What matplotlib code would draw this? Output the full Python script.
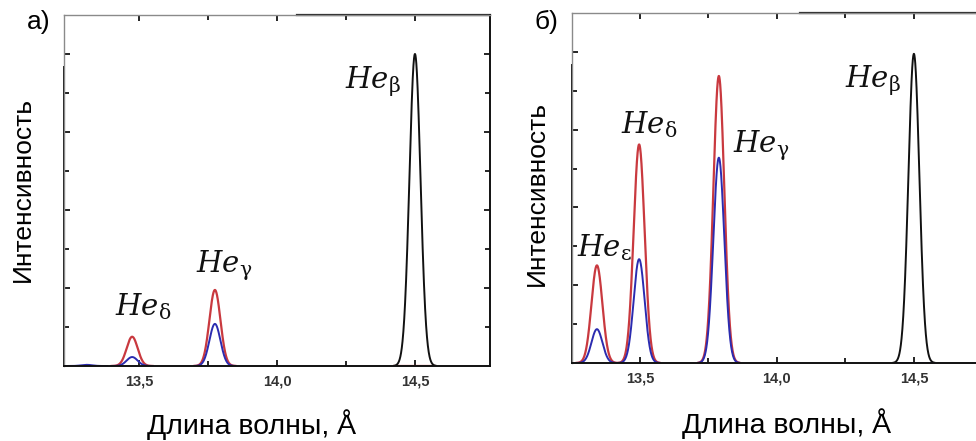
import numpy as np
import matplotlib
matplotlib.use("Agg")
import matplotlib.pyplot as plt

plt.rcParams["font.family"] = ["Liberation Sans", "DejaVu Sans"]
plt.rcParams["mathtext.fontset"] = "dejavuserif"

# Spectral lines: centre [Å], peak heights [axis units]
# nan = curve not drawn for that line
A_CENTRES = [13.31, 13.475, 13.775, 14.50]
A_RED = [np.nan, 0.75, 1.95, 0.0]
A_BLUE = [0.03, 0.23, 1.08, np.nan]
A_BLACK = [np.nan, np.nan, np.nan, 8.0]

B_CENTRES = [13.343, 13.497, 13.788, 14.50]
B_RED = [2.51, 5.62, 7.38, np.nan]
B_BLUE = [0.87, 2.67, 5.28, 0.0]
B_BLACK = [np.nan, np.nan, np.nan, 7.95]

SIGMA = 0.0200      # line width (Gaussian sigma, Å)
HALF_WIN = 0.078    # each curve is only drawn around its line

A_LABELS = [r"$He_{\mathrm{\beta}}$", r"$He_{\mathrm{\gamma}}$", r"$He_{\mathrm{\delta}}$"]
A_LABEL_XY = [(14.246, 7.13), (13.707, 2.41), (13.413, 1.31)]
B_LABELS = [r"$He_{\mathrm{\beta}}$", r"$He_{\mathrm{\gamma}}$",
            r"$He_{\mathrm{\delta}}$", r"$He_{\mathrm{\varepsilon}}$"]
B_LABEL_XY = [(14.248, 7.08), (13.839, 5.41), (13.431, 5.90), (13.270, 2.74)]

XTICKS = [13.5, 14.0, 14.5]
XTICK_LABELS = ["13,5", "14,0", "14,5"]

RED = "#c9393f"
BLUE = "#2b2bb0"


def draw_lines(ax, centres, heights, color, lw):
    for c, h in zip(centres, heights):
        if np.isnan(h):
            continue
        x = np.linspace(c - HALF_WIN, c + HALF_WIN, 300)
        ax.plot(x, h * np.exp(-0.5 * ((x - c) / SIGMA) ** 2), color=color, lw=lw,
                solid_capstyle="butt")


def style_axes(ax, xlim, top_split, left_split):
    ax.set_xlim(*xlim)
    ax.set_ylim(0, 9)
    ax.set_xticks(XTICKS)
    ax.set_xticklabels(XTICK_LABELS, fontsize=10.5, fontweight="bold", color="#333333")
    ax.set_xticks([13.75, 14.25], minor=True)
    ax.set_yticks([2, 4, 6, 8])
    ax.set_yticks([1, 3, 5, 7], minor=True)
    ax.set_yticklabels([])
    ax.tick_params(which="both", direction="in", top=True, right=True, width=1.2)
    ax.tick_params(which="major", length=4.5, pad=6)
    ax.tick_params(which="minor", length=3.5)
    for side in ("bottom", "right"):
        ax.spines[side].set_linewidth(1.4)
        ax.spines[side].set_color("#111111")
    for side in ("top", "left"):
        ax.spines[side].set_linewidth(1.0)
        ax.spines[side].set_color("#8a8a8a")
    ax.plot([top_split, 1], [1, 1], transform=ax.transAxes, color="#222222",
            lw=1.6, clip_on=False)
    ax.plot([0, 0], [0, left_split], transform=ax.transAxes, color="#111111",
            lw=1.4, clip_on=False)


fig = plt.figure(figsize=(9.76, 4.41), dpi=100)
ax_a = fig.add_axes([64 / 976, 1 - 366 / 441, 426 / 976, 351 / 441])
ax_b = fig.add_axes([572 / 976, 1 - 363 / 441, 426 / 976, 350 / 441])

for ax, centres, red, blue, black, labels, label_xy in (
        (ax_a, A_CENTRES, A_RED, A_BLUE, A_BLACK, A_LABELS, A_LABEL_XY),
        (ax_b, B_CENTRES, B_RED, B_BLUE, B_BLACK, B_LABELS, B_LABEL_XY)):
    draw_lines(ax, centres, red, RED, 1.6)
    draw_lines(ax, centres, blue, BLUE, 1.4)
    draw_lines(ax, centres, black, "#111111", 1.4)
    for text, (x, y) in zip(labels, label_xy):
        ax.text(x, y, text, fontsize=21, ha="left", va="baseline", color="#111111")

style_axes(ax_a, (13.228, 14.772), 0.547, 0.852)
style_axes(ax_b, (13.252, 14.807), 0.535, 0.851)

fig.text(27 / 976, 1 - 22 / 441, "а)", fontsize=19, ha="left", va="center")
fig.text(535 / 976, 1 - 22 / 441, "б)", fontsize=19, ha="left", va="center")
fig.text(23 / 976, 1 - 189 / 441, "Интенсивность", fontsize=19, rotation=90,
         ha="center", va="center")
fig.text(537 / 976, 1 - 193 / 441, "Интенсивность", fontsize=19, rotation=90,
         ha="center", va="center")
fig.text(252 / 976, 1 - 434 / 441, "Длина волны, Å", fontsize=20.5,
         ha="center", va="baseline")
fig.text(787 / 976, 1 - 433 / 441, "Длина волны, Å", fontsize=20.5,
         ha="center", va="baseline")

fig.savefig("out.png", dpi=100)
